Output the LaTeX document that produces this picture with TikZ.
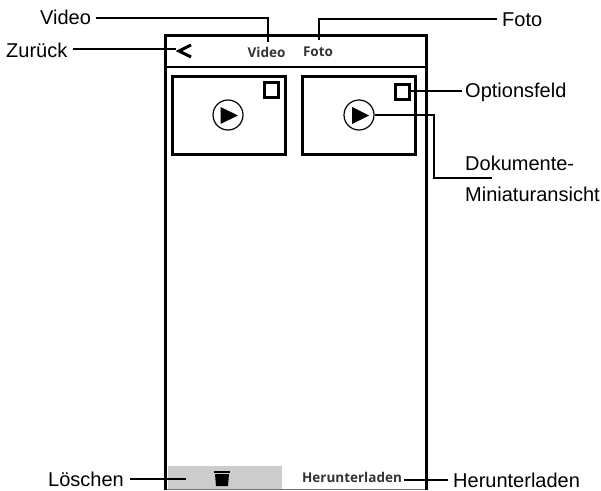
\documentclass[tikz,border=0pt]{standalone}
\usepackage{fontspec}
\setmainfont{Liberation Sans}
\newfontfamily\uifont{Open Sans}
\tikzset{
    label text/.style={font=\fontsize{20}{20}\selectfont,inner sep=0pt,anchor=west},
    ui text/.style={font=\uifont\bfseries\fontsize{13.5}{14}\selectfont,text=black!80,inner sep=0pt},
    thumb/.style={draw,line width=3pt,minimum width=113pt,minimum height=78pt,inner sep=0pt},
    tick box/.style={draw,line width=3pt,minimum width=14pt,minimum height=15pt,inner sep=0pt},
    play/.style={draw,circle,line width=1.2pt,minimum size=30pt,inner sep=0pt},
    leader/.style={draw,line width=1.3pt}
}
\begin{document}
\begin{tikzpicture}[x=1pt,y=-1pt]
        \useasboundingbox (0,0) rectangle (601,490);
        % phone
        \fill[black!20] (168,466) rectangle (282,489);
        \draw[line width=1pt,black!55] (165,489) -- (426,489);
        \draw[line width=3pt] (165,490) |- (426,35) -- (426,490);
        \draw[line width=2.6pt] (165,67) -- (426,67);
        \draw[line width=3pt] (191,45) -- (179,51) -- (191,57);
        \node[ui text] (videotab) at (266.5,52) {Video};
        \node[ui text] (fototab) at (318,52) {Foto};
        % thumbnails
        \node[thumb] (thumba) at (229,115) {};
        \node[thumb] (thumbb) at (359,115) {};
        \node[tick box] (boxa) at (271,90) {};
        \node[tick box] (boxb) at (402,92) {};
        \node[play] (playa) at (228,115) {};
        \node[play] (playb) at (359,115) {};
        \fill (220.5,107) -- (238,115.5) -- (220.5,124) -- cycle;
        \fill (352,107) -- (369,115.5) -- (352,124) -- cycle;
        % bottom bar
        \node[ui text] (downtab) at (352,477) {Herunterladen};
        \fill (215,474) -- (229,474) -- (228,486) -- (216,486) -- cycle;
        \node[minimum width=16pt,minimum height=2pt,inner sep=0pt,fill] (bin) at (222,472) {};
        % labels
        \node[label text] (video) at (40,17) {Video};
        \node[label text] (zurueck) at (6,50) {Zurück};
        \node[label text] (foto) at (502,20) {Foto};
        \node[label text] (option) at (465,92) {Optionsfeld};
        \node[label text] (doka) at (465,163) {Dokumente-};
        \node[label text] (dokb) at (465,194) {Miniaturansicht};
        \node[label text] (loeschen) at (48,479) {Löschen};
        \node[label text] (herunter) at (453,480) {Herunterladen};
        % leaders
        \coordinate (videostart) at (96,18);
        \coordinate (videotop) at (268,42);
        \coordinate (fotostart) at (497,19);
        \coordinate (fototop) at (319,40);
        \coordinate (zstart) at (73,49);
        \coordinate (back) at (176,49);
        \coordinate (optend) at (462,91);
        \coordinate (dokend) at (492,178);
        \coordinate (lstart) at (130,479);
        \coordinate (binleft) at (186,479);
        \coordinate (dstart) at (404,480);
        \coordinate (dend) at (448,480);
        \draw[leader] (videostart) -| (videotop);
        \draw[leader] (zstart) -- (back);
        \draw[leader] (fotostart) -| (fototop);
        \draw[leader] (boxb.east |- optend) -- (optend);
        \draw[leader] (playb.east) -| (434,178) -- (dokend);
        \draw[leader] (lstart) -- (binleft);
        \draw[leader] (dstart) -- (dend);
    \end{tikzpicture}
\end{document}
